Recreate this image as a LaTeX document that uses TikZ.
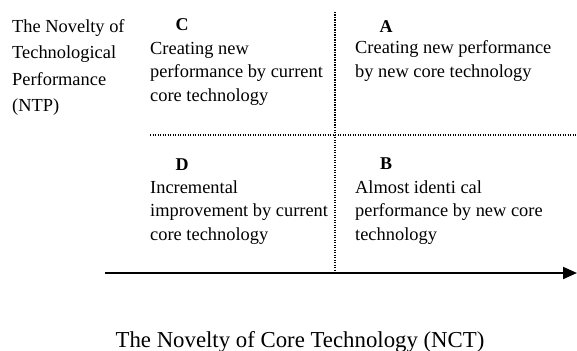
\documentclass[tikz,border=0pt]{standalone}
\usepackage{fontspec}
\setmainfont{Liberation Serif}
\usetikzlibrary{arrows.meta}

\begin{document}
\begin{tikzpicture}[x=1pt,y=-1pt,
	txt/.style={anchor=base west,inner sep=0pt,align=left,
		font=\fontsize{18.4}{23.5}\selectfont},
	quad/.style={anchor=base,inner sep=0pt,font=\fontsize{18}{20}\selectfont\bfseries},
	divider/.style={line width=1.2pt,dash pattern=on 1.2pt off 1.3pt},
	axis/.style={line width=1.3pt}]
	\useasboundingbox (0,0) rectangle (577,350);
	% dividing lines
	\coordinate (vtop) at (335,12);
	\coordinate (origin) at (335,273);
	\coordinate (hleft) at (150,135);
	\coordinate (hright) at (577,135);
	\coordinate (xstart) at (105,273);
	\coordinate (xend) at (577,273);
	\draw[divider] (vtop) -- (origin);
	\draw[divider] (hleft) -- (hright);
	\draw[axis] (xstart) -- (origin);
	\draw[axis,line width=2pt,-{Triangle[length=14pt,width=12pt]}] (origin) -- (xend);
	% axis labels (base = last line)
	\node[txt,font=\fontsize{18.4}{26}\selectfont] (ntp) at (12,111)
		{The Novelty of\\Technological\\Performance\\(NTP)};
	\node[anchor=base,inner sep=0pt,font=\fontsize{22.8}{26}\selectfont] (nct) at (300,347)
		{The Novelty of Core Technology (NCT)};
	% quadrants
	\node[quad] (c) at (182,31) {C};
	\node[txt] (qc) at (150,101) {Creating new\\performance by current\\core technology};
	\node[quad] (a) at (386,33) {A};
	\node[txt] (qa) at (355,77.5) {Creating new performance\\by new core technology};
	\node[quad] (d) at (182,170) {D};
	\node[txt] (qd) at (150,240) {Incremental\\improvement by current\\core technology};
	\node[quad] (b) at (386,169) {B};
	\node[txt] (qb) at (355,240) {Almost identi cal\\performance by new core\\technology};
\end{tikzpicture}
\end{document}
